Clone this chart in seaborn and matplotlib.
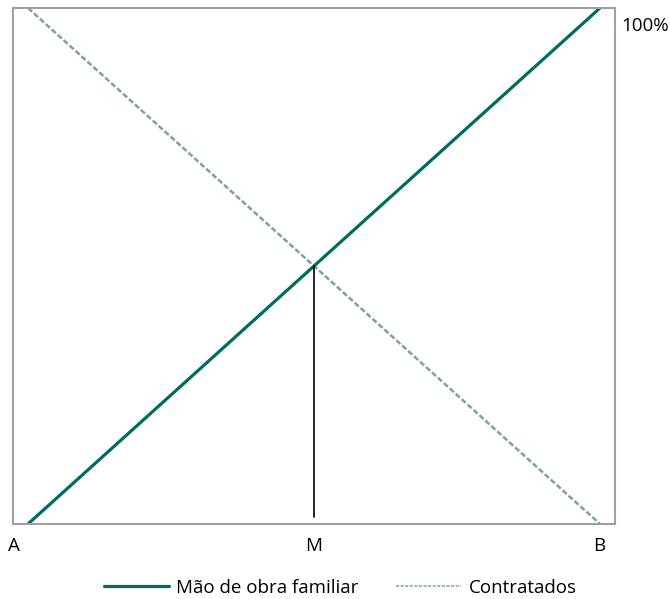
import matplotlib
matplotlib.use("Agg")
import matplotlib.pyplot as plt
import seaborn as sns
import pandas as pd
from matplotlib.lines import Line2D

sns.set_style("white")
plt.rcParams['font.family'] = ['Open Sans', 'DejaVu Sans']
plt.rcParams['text.color'] = 'black'

x_pos = [0, 100]
familiar = [0, 100]
contratados = [100, 0]
m_x = 50
m_bottom, m_top = 1.4, 50
axis_labels = ["A", "M", "B"]
axis_label_x = [-2.5, 50, 99.8]
series_names = ["Mão de obra familiar", "Contratados"]

teal = "#006b63"
green = "#7aa88a"
frame = "#a0a0a4"

fig = plt.figure(figsize=(6.7, 5.99), dpi=100)
ax = fig.add_axes([13/670, 1-524/599, (615-13)/670, (524-8)/599])

df = pd.DataFrame({"x": x_pos, "fam": familiar, "con": contratados})
sns.lineplot(data=df, x="x", y="con", ax=ax, color=green, linewidth=1.8,
             linestyle=(0, (2.2, 1.0)))
sns.lineplot(data=df, x="x", y="fam", ax=ax, color=teal, linewidth=2.3)
ax.plot([m_x, m_x], [m_bottom, m_top], color="black", linewidth=1.2)

ax.set_xlim(-2.62, 102.62)
ax.set_ylim(0, 100)
ax.set_xticks([]); ax.set_yticks([])
ax.set_xlabel(""); ax.set_ylabel("")
for s in ax.spines.values():
    s.set_visible(True)
    s.set_color(frame)
    s.set_linewidth(1.5)

fs = 13.5
for lbl, xv in zip(axis_labels, axis_label_x):
    ax.text(xv, -4.3, lbl, ha="center", va="center", fontsize=fs)
ax.text(1.011, 0.966, "100%", transform=ax.transAxes, ha="left", va="center", fontsize=fs)

handles = [Line2D([], [], color=teal, linewidth=2.3),
           Line2D([], [], color=green, linewidth=1.1, linestyle=(0, (2.0, 1.0)))]
fig.legend(handles, series_names, loc="center", bbox_to_anchor=(0.508, 1-588/599),
           ncol=2, frameon=False, fontsize=fs, handlelength=3.45,
           handletextpad=0.4, columnspacing=2.0)

fig.savefig("out.png", dpi=100)
